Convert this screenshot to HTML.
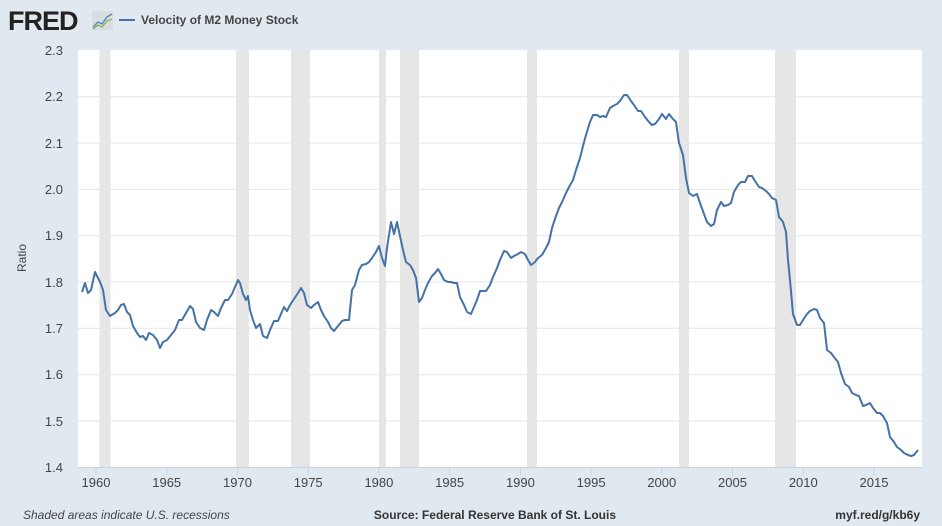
<!DOCTYPE html>
<html><head><meta charset="utf-8"><style>
body{margin:0;background:#e1e9f0;}
svg{display:block;font-family:"Liberation Sans",sans-serif;}
</style></head><body>
<svg width="942" height="526" viewBox="0 0 942 526">
<rect width="942" height="526" fill="#e1e9f0"/>
<text x="8" y="30" font-size="27" font-weight="bold" fill="#222" letter-spacing="-1">FRED</text>
<rect x="92" y="11" width="21" height="19" rx="2" fill="#d8dde2"/>
<polyline points="93,27 98,22 102,24 107,17 112,14" fill="none" stroke="#4a7bb0" stroke-width="1.2"/>
<polyline points="93,29 98,25 102,27 107,21 112,19" fill="none" stroke="#7cae3c" stroke-width="1.2"/>
<line x1="119" y1="20" x2="135" y2="20" stroke="#4572a7" stroke-width="2"/>
<text x="141" y="24" font-size="12" font-weight="bold" fill="#444">Velocity of M2 Money Stock</text>
<rect x="78" y="50" width="844" height="417" fill="#fff"/>
<g fill="#e6e6e6">
<rect x="99.5" y="50" width="11" height="417"/>
<rect x="236" y="50" width="13" height="417"/>
<rect x="291" y="50" width="19" height="417"/>
<rect x="379" y="50" width="7" height="417"/>
<rect x="400" y="50" width="19" height="417"/>
<rect x="527" y="50" width="10" height="417"/>
<rect x="679" y="50" width="10" height="417"/>
<rect x="775" y="50" width="21" height="417"/>
</g>
<g stroke="#e6e6e6" stroke-width="1">
<line x1="78" x2="922" y1="96.8" y2="96.8"/><line x1="78" x2="922" y1="143.1" y2="143.1"/>
<line x1="78" x2="922" y1="189.4" y2="189.4"/><line x1="78" x2="922" y1="235.7" y2="235.7"/>
<line x1="78" x2="922" y1="282" y2="282"/><line x1="78" x2="922" y1="328.3" y2="328.3"/>
<line x1="78" x2="922" y1="374.7" y2="374.7"/><line x1="78" x2="922" y1="421" y2="421"/>
</g>
<line x1="78" x2="922" y1="467.5" y2="467.5" stroke="#c8d3e0"/>
<g stroke="#c8d3e0"><line x1="96" x2="96" y1="467" y2="475"/><line x1="166.7" x2="166.7" y1="467" y2="475"/><line x1="237.5" x2="237.5" y1="467" y2="475"/><line x1="308.2" x2="308.2" y1="467" y2="475"/><line x1="378.9" x2="378.9" y1="467" y2="475"/><line x1="449.6" x2="449.6" y1="467" y2="475"/><line x1="520.4" x2="520.4" y1="467" y2="475"/><line x1="591.1" x2="591.1" y1="467" y2="475"/><line x1="661.8" x2="661.8" y1="467" y2="475"/><line x1="732.5" x2="732.5" y1="467" y2="475"/><line x1="803.3" x2="803.3" y1="467" y2="475"/><line x1="874" x2="874" y1="467" y2="475"/></g>
<g font-size="13" fill="#444" text-anchor="end">
<text x="63" y="55">2.3</text><text x="63" y="101">2.2</text><text x="63" y="148">2.1</text><text x="63" y="194">2.0</text><text x="63" y="240">1.9</text><text x="63" y="287">1.8</text><text x="63" y="333">1.7</text><text x="63" y="379">1.6</text><text x="63" y="426">1.5</text><text x="63" y="472">1.4</text>
</g>
<g font-size="13" fill="#444" text-anchor="middle">
<text x="96" y="487">1960</text><text x="166.7" y="487">1965</text><text x="237.5" y="487">1970</text><text x="308.2" y="487">1975</text><text x="378.9" y="487">1980</text><text x="449.6" y="487">1985</text><text x="520.4" y="487">1990</text><text x="591.1" y="487">1995</text><text x="661.8" y="487">2000</text><text x="732.5" y="487">2005</text><text x="803.3" y="487">2010</text><text x="874" y="487">2015</text>
</g>
<text transform="translate(26,258) rotate(-90)" font-size="12" fill="#444" text-anchor="middle">Ratio</text>
<polyline fill="none" stroke="#4572a7" stroke-width="2" stroke-linejoin="round" points="82,292 85,283 88,293 91,290 95,272 100,282 103,290 106,310 110,316 115,313 118,310 121,305 124,304 127,312 130,315 133,326 137,333 140,337 143,336 146,340 149,333 153,335 157,340 160,348 163,342 167,340 171,335 175,330 179,320 182,320 186,313 190,306 193,309 196,322 200,328 204,330 207,320 211,310 214,312 218,316 221,308 225,300 228,300 232,294 235,287 238,280 240,283 243,294 246,300 248,296 250,310 253,320 256,328 260,324 263,336 267,338 270,330 274,321 278,321 281,314 284,307 287,311 290,305 294,299 298,293 301,288 304,293 307,305 311,308 314,305 318,302 321,310 324,316 328,322 331,328 334,331 338,326 342,321 345,320 349,320 352,290 355,285 359,270 362,265 366,264 369,262 372,258 376,252 379,246 382,258 385,266 387,248 391,222 394,234 397,222 400,236 403,250 406,262 410,265 413,270 416,278 419,302 422,298 425,290 428,283 432,276 435,273 438,269 441,274 444,280 448,282 451,282 454,283 457,283 460,297 464,305 467,312 471,314 474,307 477,300 480,291 483,291 486,291 490,285 493,277 497,268 500,260 504,251 507,252 511,258 514,256 518,254 521,252 525,254 528,260 531,265 535,262 538,258 542,255 546,248 549,242 552,228 556,216 559,208 563,200 566,193 569,187 573,180 576,170 580,158 583,146 586,135 590,122 593,115 597,115 600,117 603,116 606,117 610,108 613,106 617,104 620,101 624,95 627,95 631,101 634,105 638,111 641,111 645,117 649,122 652,125 655,124 659,119 662,114 666,119 669,114 673,119 676,122 679,143 683,155 686,178 689,193 693,196 697,194 700,203 704,214 707,222 711,226 714,224 717,210 721,202 724,206 728,205 731,203 734,192 738,185 741,182 745,182 748,176 752,176 755,181 759,187 762,188 766,191 769,194 772,198 776,200 779,217 783,222 786,232 788,260 790,280 793,314 797,325 800,325 803,320 807,314 810,311 814,309 817,310 820,318 824,323 827,350 831,353 834,357 838,362 841,373 845,384 849,387 852,393 856,395 859,396 863,406 866,405 870,403 873,408 877,413 880,413 883,416 887,423 890,437 894,442 897,447 901,450 904,453 908,455 911,456 914,455 918,450"/>
<text x="23" y="519" font-size="12" font-style="italic" fill="#444">Shaded areas indicate U.S. recessions</text>
<text x="616" y="519" font-size="12" font-weight="bold" fill="#333" text-anchor="end">Source: Federal Reserve Bank of St. Louis</text>
<text x="920" y="519" font-size="12" font-weight="bold" fill="#333" text-anchor="end">myf.red/g/kb6y</text>
</svg>
</body></html>
